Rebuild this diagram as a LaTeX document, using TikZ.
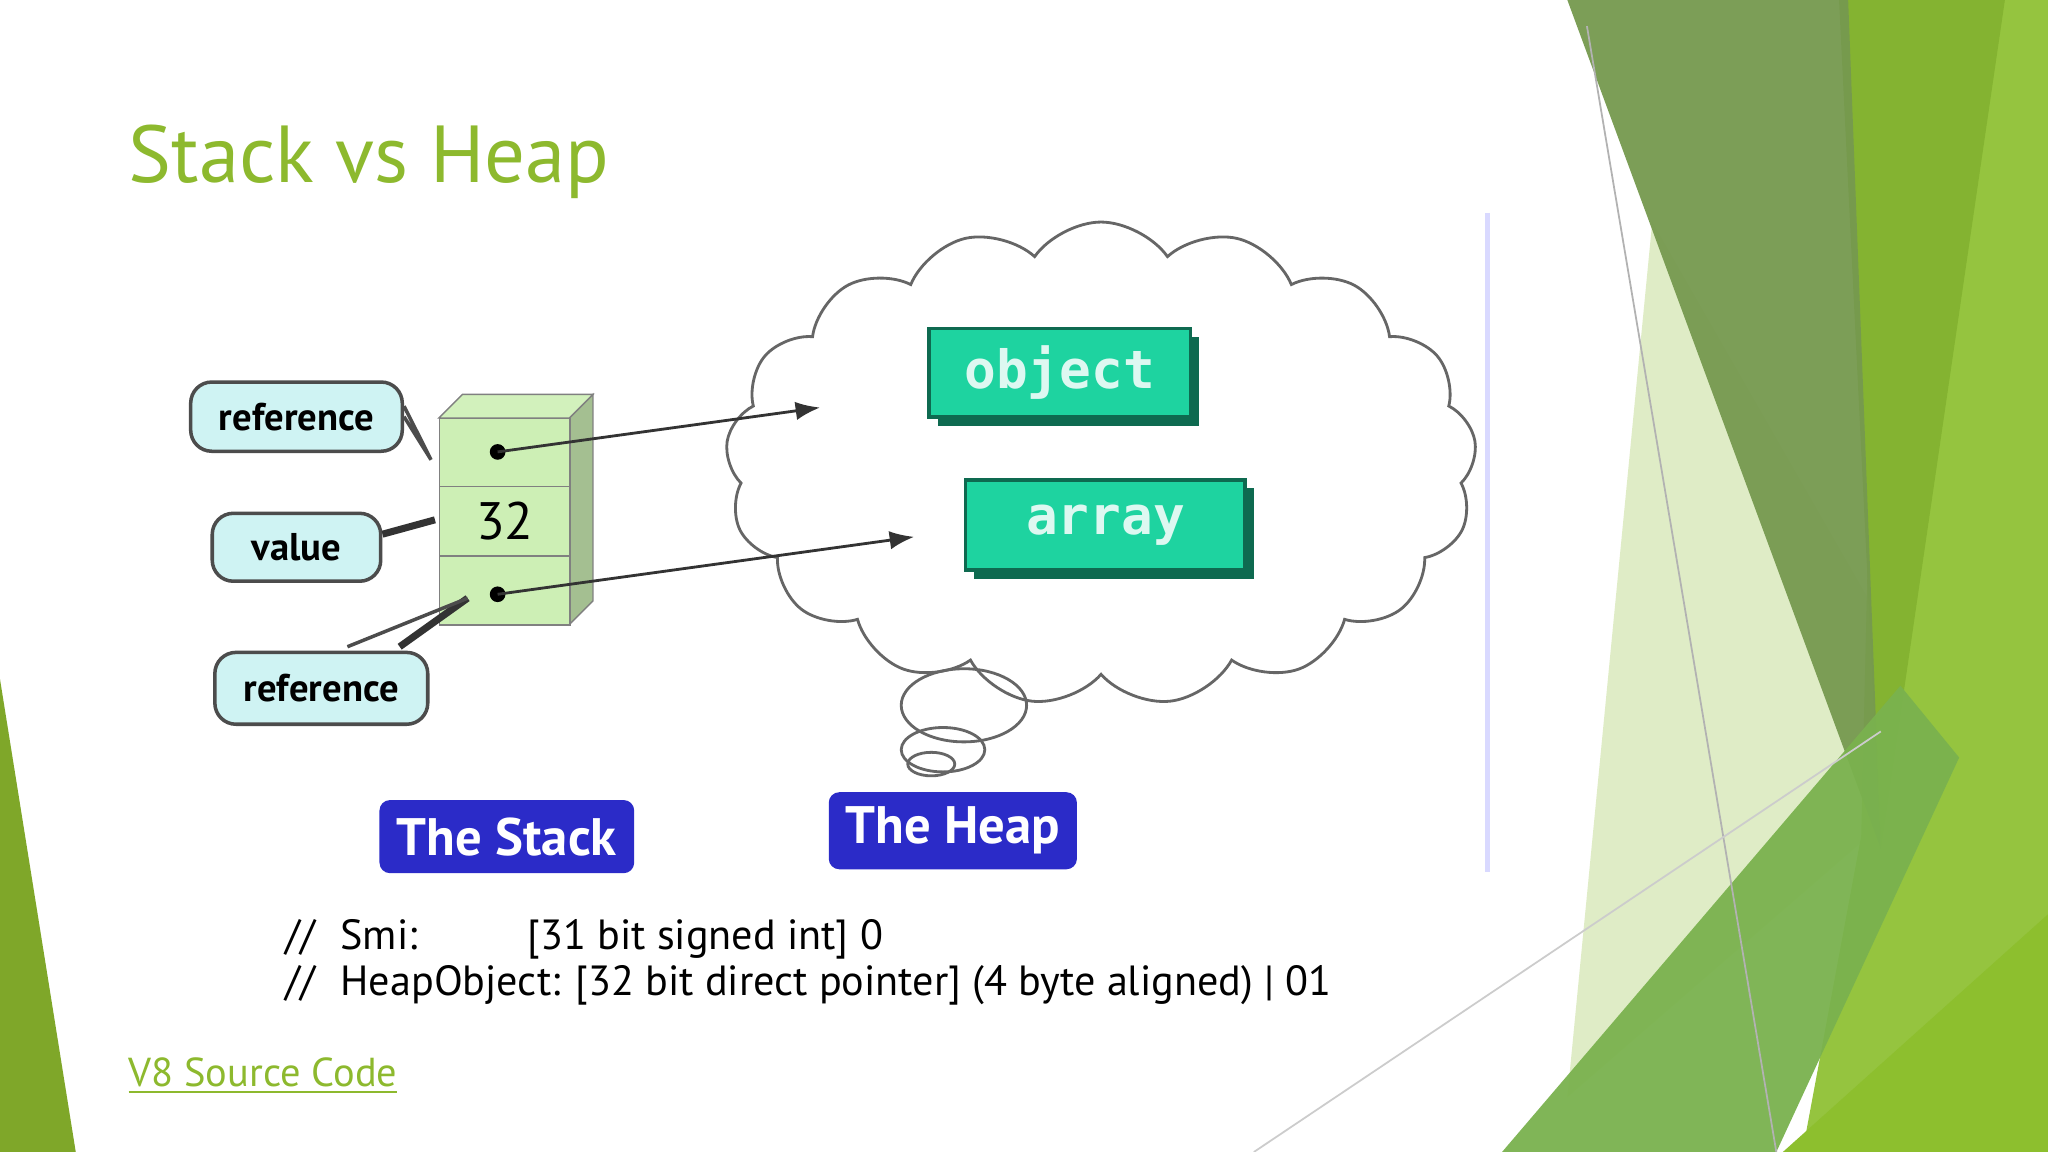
\documentclass[tikz,border=0pt]{standalone}
\usepackage{fontspec}
\setmainfont{PT Sans}
\newfontfamily\monof{DejaVu Sans Mono}
\usetikzlibrary{shapes.symbols,arrows.meta}
\definecolor{ttl}{HTML}{8DB92E}
\definecolor{olive}{HTML}{76994F}
\definecolor{gA}{HTML}{84B331}
\definecolor{gB}{HTML}{95C43F}
\definecolor{gC}{HTML}{7AB24E}
\definecolor{gD}{HTML}{8DBF2E}
\definecolor{pale}{HTML}{D8E8B8}
\definecolor{teal}{HTML}{1ED3A0}
\definecolor{tealdark}{HTML}{0E6A50}
\definecolor{stk}{HTML}{CDEFB5}
\definecolor{callout}{HTML}{CFF3F3}
\definecolor{blu}{HTML}{2B2BC8}
\def\p{0.013061cm}
\tikzset{
 callbox/.style={fill=callout,draw=black!70,line width=1pt,rounded corners=6pt,font=\bfseries\fontsize{11}{11}\selectfont},
 tealbox/.style={fill=teal,draw=tealdark,line width=1pt},
 bluebox/.style={fill=blu,rounded corners=3pt,text=white,font=\bfseries\fontsize{15}{15}\selectfont},
 ptr/.style={-{Latex[length=7pt]},line width=0.8pt,black!80}
}
\begin{document}
\begin{tikzpicture}[x=\p,y=-\p]
\useasboundingbox (0,0) rectangle (1568,882);
\fill[white] (0,0) rectangle (1568,882);
% decorations
\fill[ttl!90!black] (0,520) -- (58,882) -- (0,882) -- cycle;
\fill[pale,opacity=0.8] (1265,170) -- (1500,580) -- (1200,840) -- cycle;
\fill[gB] (1440,0) -- (1568,0) -- (1568,882) -- (1380,882) -- (1425,640) -- cycle;
\fill[gA] (1408,0) -- (1535,0) -- (1440,650) -- cycle;
\fill[olive,opacity=0.95] (1200,0) -- (1415,0) -- (1440,650) -- cycle;
\fill[gC,opacity=0.95] (1150,882) -- (1455,525) -- (1500,580) -- (1360,882) -- cycle;
\fill[gD] (1365,882) -- (1568,700) -- (1568,882) -- cycle;
\draw[gray!60,line width=0.5pt] (1215,20) -- (1360,882);
\draw[gray!40,line width=0.5pt] (960,882) -- (1440,560);
% title
\node[anchor=base west,text=ttl,font=\fontsize{23}{23}\selectfont,inner sep=0] (title) at (98,140) {Stack vs Heap};
% image frame
\draw[blue!15,line width=1.5pt] (1139,163) -- (1139,668);
% cloud
\node[cloud,draw=black!60,line width=0.8pt,cloud puffs=17,cloud puff arc=110,aspect=1.6,minimum width={575*0.013061cm},minimum height={370*0.013061cm},fill=white] (cloud) at (843,355) {};
\draw[black!60,line width=0.8pt] (738,540) ellipse [x radius=48,y radius=28];
\draw[black!60,line width=0.8pt] (722,574) ellipse [x radius=32,y radius=17];
\draw[black!60,line width=0.8pt] (713,585) ellipse [x radius=18,y radius=9];
% heap boxes
\fill[tealdark] (718,258) rectangle (918,326);
\node[tealbox,minimum width={200*0.013061cm},minimum height={68*0.013061cm},anchor=north west,text=white!85!teal,font=\monof\bfseries\fontsize{15}{15}\selectfont] (obj) at (710,250) {object};
\fill[tealdark] (746,374) rectangle (960,443);
\node[tealbox,minimum width={214*0.013061cm},minimum height={69*0.013061cm},anchor=north west,text=white!85!teal,font=\monof\bfseries\fontsize{15}{15}\selectfont] (arr) at (738,366) {array};
% stack
\fill[stk!80!black,draw=black!50] (436,320) -- (454,302) -- (454,460) -- (436,478) -- cycle;
\fill[stk!90!white,draw=black!50] (336,320) -- (354,302) -- (454,302) -- (436,320) -- cycle;
\node[fill=stk,draw=black!50,minimum width={100*0.013061cm},minimum height={52*0.013061cm},anchor=north west,inner sep=0] (s1) at (336,320) {};
\node[fill=stk,draw=black!50,minimum width={100*0.013061cm},minimum height={53*0.013061cm},anchor=north west,inner sep=0,font=\fontsize{15}{15}\selectfont] (s2) at (336,372) {32};
\node[fill=stk,draw=black!50,minimum width={100*0.013061cm},minimum height={53*0.013061cm},anchor=north west,inner sep=0] (s3) at (336,425) {};
\fill (381,346) circle (6) coordinate (d1);
\fill (381,455) circle (6) coordinate (d2);
\coordinate (t1) at (628,312);
\coordinate (t2) at (700,411);
\draw[ptr] (d1) -- (t1);
\draw[ptr] (d2) -- (t2);
% callouts
\node[callbox,minimum width={162*0.013061cm},minimum height={53*0.013061cm}] (c1) at (227,319) {reference};
\node[callbox,minimum width={129*0.013061cm},minimum height={52*0.013061cm}] (c2) at (227,419) {value};
\node[callbox,minimum width={163*0.013061cm},minimum height={55*0.013061cm}] (c3) at (246,527) {reference};
\draw[black!70,line width=1pt] (c1.east) ++(0,-8) -- (330,352) -- (c1.east) ++(0,10);
\draw[black!80,line width=2pt] (c2.east) ++(0,-10) -- (333,398);
\draw[black!80,line width=2pt] (c3.north) ++(60,-3) -- (358,458);
\draw[black!70,line width=1pt] (c3.north) ++(20,-3) -- (358,458);
% labels
\node[bluebox,minimum width={195*0.013061cm},minimum height={56*0.013061cm},anchor=north west] (ls) at (290,612) {The Stack};
\node[bluebox,minimum width={190*0.013061cm},minimum height={59*0.013061cm},anchor=north west] (lh) at (634,606) {The Heap};
% code
\node[anchor=base west,inner sep=0,font=\fontsize{12}{12}\selectfont] (code1) at (218,727) {//\hspace{0.6em}Smi:\hspace{2.6em}[31 bit signed int] 0};
\node[anchor=base west,inner sep=0,font=\fontsize{12}{12}\selectfont] (code2) at (218,762) {//\hspace{0.6em}HeapObject: [32 bit direct pointer] (4 byte aligned) | 01};
\node[anchor=base west,inner sep=0,text=ttl,font=\fontsize{11.5}{11.5}\selectfont] (link) at (98,832) {\underline{V8 Source Code}};
\end{tikzpicture}
\end{document}
